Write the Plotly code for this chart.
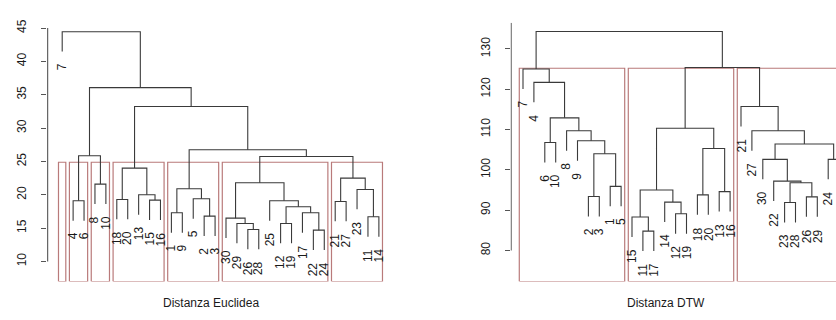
import plotly.graph_objects as go

# ---------------- data ----------------
# Euclidean-distance dendrogram (R hclust style: negative = observation, positive = earlier merge)
euc_order = [7, 4, 6, 8, 10, 18, 20, 13, 15, 16, 1, 9, 5, 2, 3,
             30, 29, 26, 28, 25, 12, 19, 17, 22, 24, 21, 27, 23, 11, 14]
euc_left = [-22, -26, -12, -29, -30, -11, -2, -17, -1, 3, -4, -25, -15, -18, -5,
            -21, -13, -23, 9, -8, 5, 16, 14, 21, 11, 19, 23, 25, -7]
euc_right = [-24, -28, -19, 2, 4, -14, -3, 1, -9, 8, -6, 10, -16, -20, 7,
             -27, 13, 6, 15, -10, 12, 18, 17, 22, 20, 24, 26, 27, 28]
euc_height = [14.7, 14.8, 15.7, 15.7, 16.5, 16.7, 16.8, 17.3, 17.3, 18.2, 19.1, 19.1, 19.2, 19.3, 19.4,
              19.0, 20.0, 20.8, 20.9, 21.6, 21.8, 22.5, 24.0, 25.75, 25.86, 26.75, 33.23, 36.07, 44.45]
euc_k = 7
euc_ticks = [10, 15, 20, 25, 30, 35, 40, 45]
euc_title = "Distanza Euclidea"

# DTW-distance dendrogram
dtw_order = [7, 4, 6, 10, 8, 9, 2, 3, 1, 5, 15, 11, 17, 14, 12, 19, 18, 20, 13, 16,
             21, 27, 30, 22, 23, 28, 26, 29, 24, 25]
dtw_left = [-11, -15, -12, -23, -14, -26, -2, -18, -13, 2, -1, 4, -22, -30, -24,
            7, 8, 14, -6, -9, -27, -8, 10, 19, -21, -4, -7, 23, 27]
dtw_right = [-17, 1, -19, -28, 3, -29, -3, -20, -16, 5, -5, 6, 12, 13, -25,
             11, 9, 15, -10, 16, 18, 20, 17, 22, 21, 24, 26, 25, 28]
dtw_height = [84.8, 88.3, 89.1, 91.9, 92.0, 93.3, 93.4, 93.8, 94.6, 95.0, 95.9, 96.8, 97.2, 102.6, 102.6,
              104.0, 105.3, 106.4, 106.8, 107.2, 109.7, 109.7, 110.3, 112.9, 115.7, 121.7, 125.0, 125.4, 134.3]
dtw_k = 3
dtw_ticks = [80, 90, 100, 110, 120, 130]
dtw_title = "Distanza DTW"

# ---------------- style ----------------
FONT = "Liberation Sans, Arial, Helvetica, sans-serif"
LINE_COL = "#3a3a3a"
RECT_COL = "#b97a7a"
TXT_COL = "#1a1a1a"
W, H = 836, 320
PLOT_TOP, PLOT_BOT = 22.7, 281.5          # pixel rows of the plot regions
ydom = [(H - PLOT_BOT) / H, (H - PLOT_TOP) / H]


def build(order, ma, mb, h, k):
    pos = {obs: i + 1 for i, obs in enumerate(order)}
    n = len(ma)
    mx = [0.0] * n
    hang = 0.1 * (max(h) - min(h))
    sx, sy, leaves = [], [], []
    for i in range(n):
        hi = h[i]
        ends = []
        for c in (ma[i], mb[i]):
            if c < 0:
                x = pos[-c]
                y = hi - hang
                leaves.append((x, y, str(-c)))
            else:
                x = mx[c - 1]
                y = h[c - 1]
            ends.append((x, y))
        (xa, ya), (xb, yb) = ends
        mx[i] = (xa + xb) / 2
        sx += [xa, xa, xb, xb, None]
        sy += [ya, hi, hi, yb, None]
    # clusters for k groups (like rect.hclust)
    hs = sorted(h, reverse=True)
    cut = (hs[k - 2] + hs[k - 1]) / 2

    def span(c):
        if c < 0:
            return [pos[-c]]
        return span(ma[c - 1]) + span(mb[c - 1])

    groups = []

    def walk(c):
        if c > 0 and h[c - 1] > cut:
            walk(ma[c - 1])
            walk(mb[c - 1])
        else:
            s = span(c)
            groups.append((min(s), max(s)))

    walk(n)
    return sx, sy, leaves, groups, cut


panels = [
    dict(order=euc_order, ma=euc_left, mb=euc_right, h=euc_height, k=euc_k, ticks=euc_ticks,
         title=euc_title, xpx=(47, 392), leaf1=62.2, yr=(7.0, 45.8), axis=(10, 45), title_px=211),
    dict(order=dtw_order, ma=dtw_left, mb=dtw_right, h=dtw_height, k=dtw_k, ticks=dtw_ticks,
         title=dtw_title, xpx=(510.5, 836), leaf1=523.0, yr=(72.3, 136.5), axis=(80, 136.5), title_px=666),
]
PX_PER_LEAF = [10.92, 10.9]

fig = go.Figure()
annotations = []
for p_i, p in enumerate(panels):
    xa = "x" if p_i == 0 else "x2"
    ya = "y" if p_i == 0 else "y2"
    sx, sy, leaves, groups, cut = build(p["order"], p["ma"], p["mb"], p["h"], p["k"])
    ppl = PX_PER_LEAF[p_i]
    x0 = 1 - (p["leaf1"] - p["xpx"][0]) / ppl
    x1 = x0 + (p["xpx"][1] - p["xpx"][0]) / ppl
    ybot = p["yr"][0]

    # cluster rectangles
    rx, ry = [], []
    for a, b in groups:
        l, r = a - 0.34, b + 0.33
        rx += [l, r, r, l, l, None]
        ry += [ybot, ybot, cut, cut, ybot, None]
    fig.add_trace(go.Scatter(x=rx, y=ry, mode="lines", line=dict(color=RECT_COL, width=1.2),
                             xaxis=xa, yaxis=ya, hoverinfo="skip", showlegend=False))
    # dendrogram
    fig.add_trace(go.Scatter(x=sx, y=sy, mode="lines", line=dict(color=LINE_COL, width=1.1),
                             xaxis=xa, yaxis=ya, hoverinfo="skip", showlegend=False))
    # axis line (from first tick)
    ax_x = x0 + 0.06
    fig.add_trace(go.Scatter(x=[ax_x, ax_x], y=list(p["axis"]), mode="lines",
                             line=dict(color="#555", width=1.1), xaxis=xa, yaxis=ya,
                             hoverinfo="skip", showlegend=False))
    # leaf labels
    for (lx, ly, lab) in leaves:
        annotations.append(dict(x=lx, y=ly, xref=xa, yref=ya, text=lab, showarrow=False,
                                textangle=-90, xanchor="center", yanchor="top", yshift=-10,
                                font=dict(family=FONT, size=12, color=TXT_COL)))
    # x label
    annotations.append(dict(x=p["title_px"] / W, y=(H - 303) / H, xref="paper", yref="paper",
                            text=p["title"], showarrow=False, xanchor="center", yanchor="middle",
                            font=dict(family=FONT, size=12, color=TXT_COL)))

    axis_common = dict(showgrid=False, zeroline=False, showline=False, automargin=False)
    fig.layout[("xaxis" if p_i == 0 else "xaxis2")] = dict(
        domain=[p["xpx"][0] / W, p["xpx"][1] / W], range=[x0, x1],
        showticklabels=False, ticks="", anchor=ya, **axis_common)
    fig.layout[("yaxis" if p_i == 0 else "yaxis2")] = dict(
        domain=ydom, range=list(p["yr"]), tickvals=p["ticks"], ticktext=[str(t) for t in p["ticks"]],
        ticks="outside", ticklen=5, tickcolor="#555", tickwidth=1, tickangle=-90,
        ticklabelstandoff=10, anchor=xa,
        tickfont=dict(family=FONT, size=12, color=TXT_COL), **axis_common)

fig.update_layout(width=W, height=H, margin=dict(l=0, r=0, t=0, b=0),
                  paper_bgcolor="white", plot_bgcolor="white",
                  annotations=annotations, showlegend=False)
fig.write_html("out.html", config={"displayModeBar": False, "staticPlot": True},
               post_script="document.body.style.margin='0';document.body.style.overflow='hidden';")
